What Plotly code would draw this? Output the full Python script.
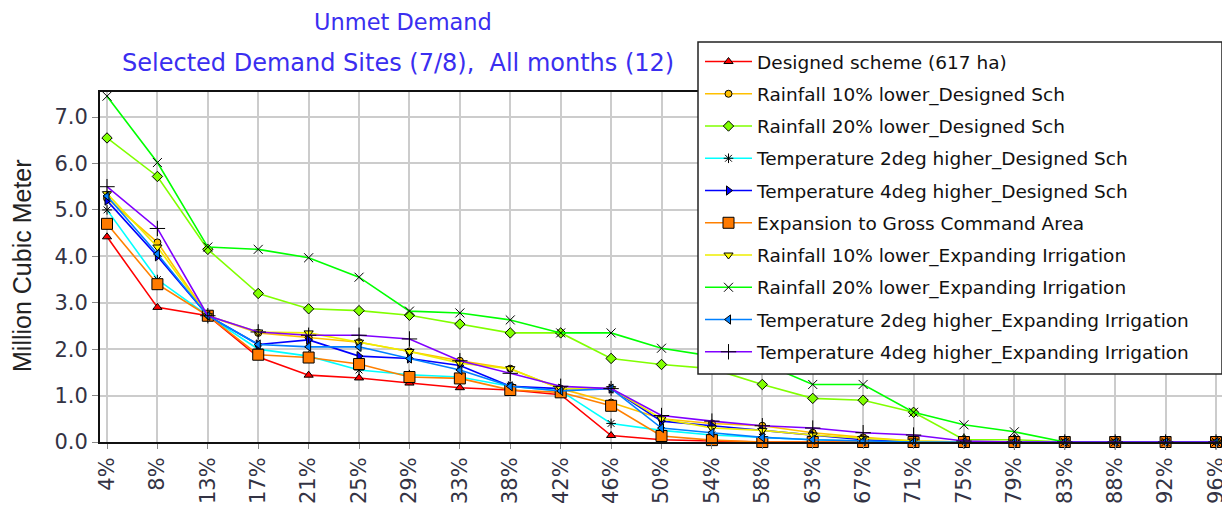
import plotly.graph_objects as go

categories = ["4%", "8%", "13%", "17%", "21%", "25%", "29%", "33%", "38%", "42%", "46%", "50%",
              "54%", "58%", "63%", "67%", "71%", "75%", "79%", "83%", "88%", "92%", "96%"]

designed_scheme = [4.42, 2.90, 2.72, 1.83, 1.44, 1.38, 1.27, 1.17, 1.12, 1.02, 0.14, 0.05,
                   0.02, 0.0, 0.0, 0.0, 0.0, 0.0, 0.0, 0.0, 0.0, 0.0, 0.0]
rain10_designed = [5.25, 4.30, 2.72, 2.35, 2.25, 2.15, 1.95, 1.75, 1.58, 1.15, 0.85, 0.50,
                   0.40, 0.35, 0.20, 0.10, 0.02, 0.0, 0.0, 0.0, 0.0, 0.0, 0.0]
rain20_designed = [6.55, 5.72, 4.15, 3.20, 2.87, 2.83, 2.73, 2.54, 2.35, 2.35, 1.80, 1.67,
                   1.58, 1.24, 0.94, 0.90, 0.64, 0.05, 0.05, 0.0, 0.0, 0.0, 0.0]
temp2_designed = [5.00, 3.50, 2.72, 2.00, 1.85, 1.55, 1.45, 1.40, 1.20, 1.10, 0.40, 0.25,
                  0.15, 0.10, 0.05, 0.02, 0.0, 0.0, 0.0, 0.0, 0.0, 0.0, 0.0]
temp4_designed = [5.20, 4.00, 2.72, 2.10, 2.20, 1.85, 1.80, 1.65, 1.20, 1.15, 1.15, 0.45,
                  0.35, 0.25, 0.15, 0.05, 0.0, 0.0, 0.0, 0.0, 0.0, 0.0, 0.0]
expansion_gca = [4.70, 3.40, 2.72, 1.88, 1.82, 1.68, 1.40, 1.37, 1.12, 1.07, 0.78, 0.13,
                 0.04, 0.0, 0.0, 0.0, 0.0, 0.0, 0.0, 0.0, 0.0, 0.0, 0.0]
rain10_expanding = [5.35, 4.20, 2.72, 2.37, 2.35, 2.15, 1.95, 1.70, 1.58, 1.15, 1.15, 0.50,
                    0.30, 0.25, 0.15, 0.08, 0.02, 0.0, 0.0, 0.0, 0.0, 0.0, 0.0]
rain20_expanding = [7.45, 6.02, 4.20, 4.15, 3.97, 3.55, 2.82, 2.78, 2.63, 2.35, 2.35, 2.02,
                    1.85, 1.70, 1.24, 1.24, 0.64, 0.37, 0.22, 0.0, 0.0, 0.0, 0.0]
temp2_expanding = [5.30, 4.05, 2.72, 2.10, 2.05, 2.05, 1.80, 1.55, 1.20, 1.10, 1.15, 0.30,
                   0.20, 0.10, 0.05, 0.02, 0.0, 0.0, 0.0, 0.0, 0.0, 0.0, 0.0]
temp4_expanding = [5.50, 4.60, 2.72, 2.37, 2.30, 2.30, 2.22, 1.75, 1.48, 1.20, 1.15, 0.57,
                   0.45, 0.35, 0.30, 0.20, 0.15, 0.02, 0.0, 0.0, 0.0, 0.0, 0.0]

series_names = ["Designed scheme (617 ha)", "Rainfall 10% lower_Designed Sch",
                "Rainfall 20% lower_Designed Sch", "Temperature 2deg higher_Designed Sch",
                "Temperature 4deg higher_Designed Sch", "Expansion to Gross Command Area",
                "Rainfall 10% lower_Expanding Irrigation", "Rainfall 20% lower_Expanding Irrigation",
                "Temperature 2deg higher_Expanding Irrigation", "Temperature 4deg higher_Expanding Irrigation"]
series_values = [designed_scheme, rain10_designed, rain20_designed, temp2_designed, temp4_designed,
                 expansion_gca, rain10_expanding, rain20_expanding, temp2_expanding, temp4_expanding]

styles = [
    dict(line="#FF0000", symbol="triangle-up", fill="#FF0000", size=8),
    dict(line="#FFC000", symbol="circle", fill="#FFC000", size=7),
    dict(line="#80FF00", symbol="diamond", fill="#80FF00", size=8),
    dict(line="#00FFFF", symbol="asterisk-open", fill="#000000", size=8),
    dict(line="#0000FF", symbol="triangle-right", fill="#0000FF", size=8),
    dict(line="#FF8000", symbol="square", fill="#FF7A00", size=11),
    dict(line="#EEEE00", symbol="triangle-down", fill="#FFFF00", size=8),
    dict(line="#00FF00", symbol="x-thin-open", fill="#000000", size=9),
    dict(line="#0080FF", symbol="triangle-left", fill="#0080FF", size=8),
    dict(line="#8000FF", symbol="cross-thin-open", fill="#000000", size=11),
]

fig = go.Figure()
for i, (name, vals, st) in enumerate(zip(series_names, series_values, styles)):
    fig.add_trace(go.Scatter(
        x=categories, y=vals, name=name, mode="lines+markers",
        legendgroup=f"g{i}",
        line=dict(color=st["line"], width=1.6),
        marker=dict(symbol=st["symbol"], size=st["size"], color=st["fill"],
                    line=dict(color="#000000", width=1)),
        cliponaxis=False,
    ))

# The page body has an 8px default margin, so the figure is drawn 8px in from the window edge.
OFF = 8
W, H = 1230 - OFF, 511 - OFF
L, R, T, B = 100, 1222, 92, 442   # plot area in window pixels


def px(x):
    return (x - L) / (R - L)


def py(y):
    return (B - y) / (B - T)


fig.update_layout(
    width=W, height=H,
    margin=dict(l=L - OFF, r=W - (R - OFF), t=T - OFF, b=H - (B - OFF), autoexpand=False),
    paper_bgcolor="white", plot_bgcolor="white",
    showlegend=True,
    legend=dict(
        x=px(700), y=py(43), xanchor="left", yanchor="top",
        bgcolor="rgba(0,0,0,0)", borderwidth=0,
        font=dict(family="DejaVu Sans", size=18.5, color="#111111"),
        tracegroupgap=5.2, itemwidth=47,
        traceorder="grouped", maxheight=600,
    ),
    shapes=[dict(type="rect", xref="paper", yref="paper",
                 x0=px(698), x1=px(1222), y0=py(374), y1=py(42),
                 fillcolor="white", line=dict(color="#222222", width=1.5), layer="above")],
    annotations=[
        dict(text="Unmet Demand", xref="paper", yref="paper", x=px(403), y=py(22),
             showarrow=False, xanchor="center", yanchor="middle",
             font=dict(family="DejaVu Sans", size=22.5, color="#3A2EF0")),
        dict(text="Selected Demand Sites (7/8),  All months (12)", xref="paper", yref="paper",
             x=px(398), y=py(63), showarrow=False, xanchor="center", yanchor="middle",
             font=dict(family="DejaVu Sans", size=24, color="#3A2EF0")),
        dict(text="Million Cubic Meter", xref="paper", yref="paper", x=px(22), y=py(266),
             showarrow=False, xanchor="center", yanchor="middle", textangle=-90,
             font=dict(family="Liberation Sans", size=25, color="#222222")),
    ],
    xaxis=dict(
        type="category", range=[-0.139, 22.119],
        showgrid=True, gridcolor="#CCCCCC", gridwidth=2,
        showline=True, linecolor="#111111", linewidth=2, mirror=True,
        ticks="outside", ticklen=5, tickcolor="#888888",
        tickangle=-90,
        tickfont=dict(family="DejaVu Sans", size=21, color="#333344"),
    ),
    yaxis=dict(
        range=[0, 7.54], dtick=1, tickformat=".1f",
        showgrid=True, gridcolor="#CCCCCC", gridwidth=2, zeroline=False,
        showline=True, linecolor="#111111", linewidth=2, mirror=True,
        ticks="outside", ticklen=6, tickcolor="#888888",
        tickfont=dict(family="DejaVu Sans", size=21, color="#333344"),
    ),
)

fig.write_html("out.html")
